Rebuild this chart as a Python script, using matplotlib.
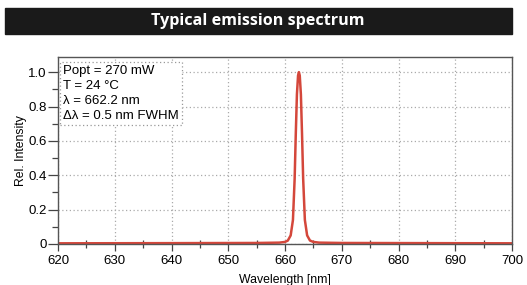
import matplotlib.pyplot as plt
from matplotlib.patches import Rectangle
from matplotlib.ticker import MultipleLocator, FixedFormatter, FixedLocator

plt.rcParams['font.family'] = ['Liberation Sans', 'DejaVu Sans']

# spectrum
wavelength = [620, 640, 655, 659, 660, 660.5, 661.0, 661.4, 661.7, 661.9, 662.1, 662.3,
              662.45, 662.6, 662.8, 663.0, 663.2, 663.5, 663.9, 664.4, 665, 666, 670, 685, 700]
intensity = [0.004, 0.005, 0.006, 0.008, 0.012, 0.02, 0.05, 0.14, 0.38, 0.64, 0.87, 0.98,
             1.0, 0.98, 0.87, 0.64, 0.38, 0.14, 0.05, 0.02, 0.012, 0.008, 0.006, 0.005, 0.004]

xticks = [620, 630, 640, 650, 660, 670, 680, 690, 700]
yticks = [0, 0.2, 0.4, 0.6, 0.8, 1.0]
ytick_labels = ['0', '0.2', '0.4', '0.6', '0.8', '1.0']
info_lines = ['Popt = 270 mW', 'T = 24 °C', 'λ = 662.2 nm', 'Δλ = 0.5 nm FWHM']

fig = plt.figure(figsize=(5.27, 2.85), dpi=100)

# black title bar
fig.patches.append(Rectangle((5 / 527, 1 - 34 / 285), 507 / 527, 26 / 285,
                             transform=fig.transFigure, color='#1a1a1a', zorder=0))
fig.text(258 / 527, 1 - 21 / 285, 'Typical emission spectrum', color='white',
         fontsize=11.6, fontweight='bold', ha='center', va='center',
         family=['Open Sans', 'DejaVu Sans'])

ax = fig.add_axes([58 / 527, 1 - 244 / 285, 454 / 527, 187 / 285])
ax.plot(wavelength, intensity, color='#d4473b', lw=1.8)

ax.set_xlim(620, 700)
ax.set_ylim(0, 1.088)
ax.xaxis.set_major_locator(FixedLocator(xticks))
ax.xaxis.set_minor_locator(MultipleLocator(5))
ax.yaxis.set_major_locator(FixedLocator(yticks))
ax.yaxis.set_major_formatter(FixedFormatter(ytick_labels))
ax.yaxis.set_minor_locator(MultipleLocator(0.1))

ax.grid(True, which='major', color='#aaaaaa', linestyle=(0, (1, 2)), lw=0.9)
for s in ax.spines.values():
    s.set_color('#555555')
    s.set_linewidth(1.0)
ax.tick_params(axis='y', which='major', direction='out', length=7, width=0.9, labelsize=9.5,
               color='#444444', pad=1)
ax.tick_params(axis='x', which='major', direction='out', length=5, width=0.9, labelsize=9.5,
               color='#444444', pad=3)
ax.tick_params(axis='x', which='minor', direction='inout', length=6, width=0.9, color='#444444')
ax.tick_params(axis='y', which='minor', direction='out', length=4, width=0.9, color='#444444')

ax.set_xlabel('Wavelength [nm]', fontsize=8.8, labelpad=5)
ax.set_ylabel('Rel. Intensity', fontsize=8.8, labelpad=1)

ax.text(0.012, 0.955, '\n'.join(info_lines), transform=ax.transAxes, fontsize=9.5,
        va='top', ha='left', linespacing=1.32,
        bbox=dict(boxstyle='square,pad=0.25', fc='white', ec='#999999', ls=(0, (1, 2)), lw=0.9))

fig.savefig('out.png', dpi=100)
